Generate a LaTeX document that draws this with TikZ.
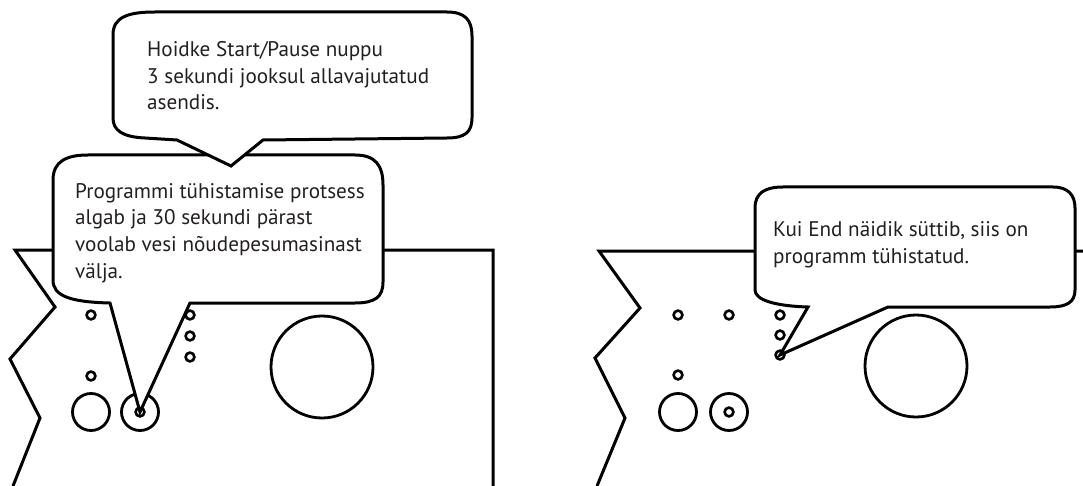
\documentclass[tikz,border=0pt]{standalone}
\usepackage{fontspec}
\setmainfont{PT Sans}
\usepackage{xcolor}
\definecolor{tekst}{HTML}{231F20}

% Kirja suurus nii, et rida "3 sekundi ..." oleks 282pt lai
\newlength\proovlaius
\AtBeginDocument{%
  \settowidth\proovlaius{\fontsize{10}{12}\selectfont 3 sekundi jooksul allavajutatud}%
  \pgfmathsetmacro\kirjasuurus{10*282/\proovlaius}}

\tikzset{
  paneel/.style={line width=3pt,line join=miter},
  auk/.style={line width=2.6pt},
  nupp/.style={line width=2.8pt},
  mull/.style={draw,line width=3pt,fill=white,line join=miter},
  mulltekst/.style={anchor=base west,align=left,inner sep=0pt,text=tekst,
    font=\fontsize{\kirjasuurus}{26.8}\selectfont}
}

\begin{document}
\begin{tikzpicture}[x=1pt,y=-1pt]
    \useasboundingbox (0,0) rectangle (1083,486);

    % Vasak paneel: murtud serv ja ylaserv
    \draw[paneel] (13,486)--(40,418)--(10,359)--(55,307)--(15,250)--(493,250)--(493,486);

    % Vasaku paneeli tuled
    \foreach \p in {(91,315),(190,315),(190,336),(190,357),(91,376)}
        \draw[auk] \p circle (4.4pt);

    % Vasaku paneeli nupud ja suur ring
    \draw[nupp] (91,412) circle (18.5pt);
    \draw[nupp] (140,412) circle (18.5pt);
    \draw[auk] (140,412) circle (4.4pt);
    \draw[nupp] (322,367) circle (51pt);
    \coordinate (startnupp) at (140,412);

    % Parem paneel
    \draw[paneel] (597,486)--(625,418)--(595,358)--(640,308)--(599,251)--(1083,251);

    % Parema paneeli tuled
    \foreach \p in {(678,315),(729,315),(780,315),(780,335),(780,355),(678,375)}
        \draw[auk] \p circle (4.4pt);
    \coordinate (endtuli) at (780,355);

    % Parema paneeli nupud ja suur ring
    \draw[nupp] (678,412) circle (18.5pt);
    \draw[nupp] (729,412) circle (18.5pt);
    \draw[auk] (729,412) circle (4.4pt);
    \draw[nupp] (916,366) circle (51pt);

    % Mull: programmi tyhistamine (osutab Start/Pause nupule)
    \draw[mull] (53,180) .. controls (53,161) and (67,155) .. (88,155) -- (355,155)
        .. controls (375,155) and (383,165) .. (383,185) -- (383,282)
        .. controls (383,297) and (375,303) .. (355,303) -- (190,303) -- (startnupp)
        -- (110,303) .. controls (70,302) and (53,296) .. (53,280) -- cycle;
    \node[mulltekst] (protsess) at (75,278.5)
        {Programmi tühistamise protsess\\algab ja 30 sekundi pärast\\voolab vesi nõudepesumasinast\\välja.};

    % Mull: hoidke nuppu
    \coordinate (hoidketipp) at (231,166);
    \draw[mull] (113,35) .. controls (113,17) and (128,12) .. (155,12) -- (447,12)
        .. controls (465,12) and (472,20) .. (472,36) -- (472,118)
        .. controls (472,132) and (465,138) .. (447,138) -- (263,140) -- (hoidketipp)
        -- (177,140) -- (145,138) .. controls (122,137) and (113,130) .. (113,118) -- cycle;
    \node[mulltekst] (hoidke) at (147,110)
        {Hoidke Start/Pause nuppu\\3 sekundi jooksul allavajutatud\\asendis.};

    % Mull: End naidik
    \draw[mull] (755,208) .. controls (755,193) and (765,187) .. (783,187) -- (1053,187)
        .. controls (1068,187) and (1075,195) .. (1075,208) -- (1075,290)
        .. controls (1075,302) and (1067,307) .. (1050,307) -- (888,307) -- (endtuli)
        -- (808,307) .. controls (775,306) and (755,300) .. (755,290) -- cycle;
    \node[mulltekst] (lopp) at (773,263.5)
        {Kui End näidik süttib, siis on\\programm tühistatud.};

\end{tikzpicture}
\end{document}
